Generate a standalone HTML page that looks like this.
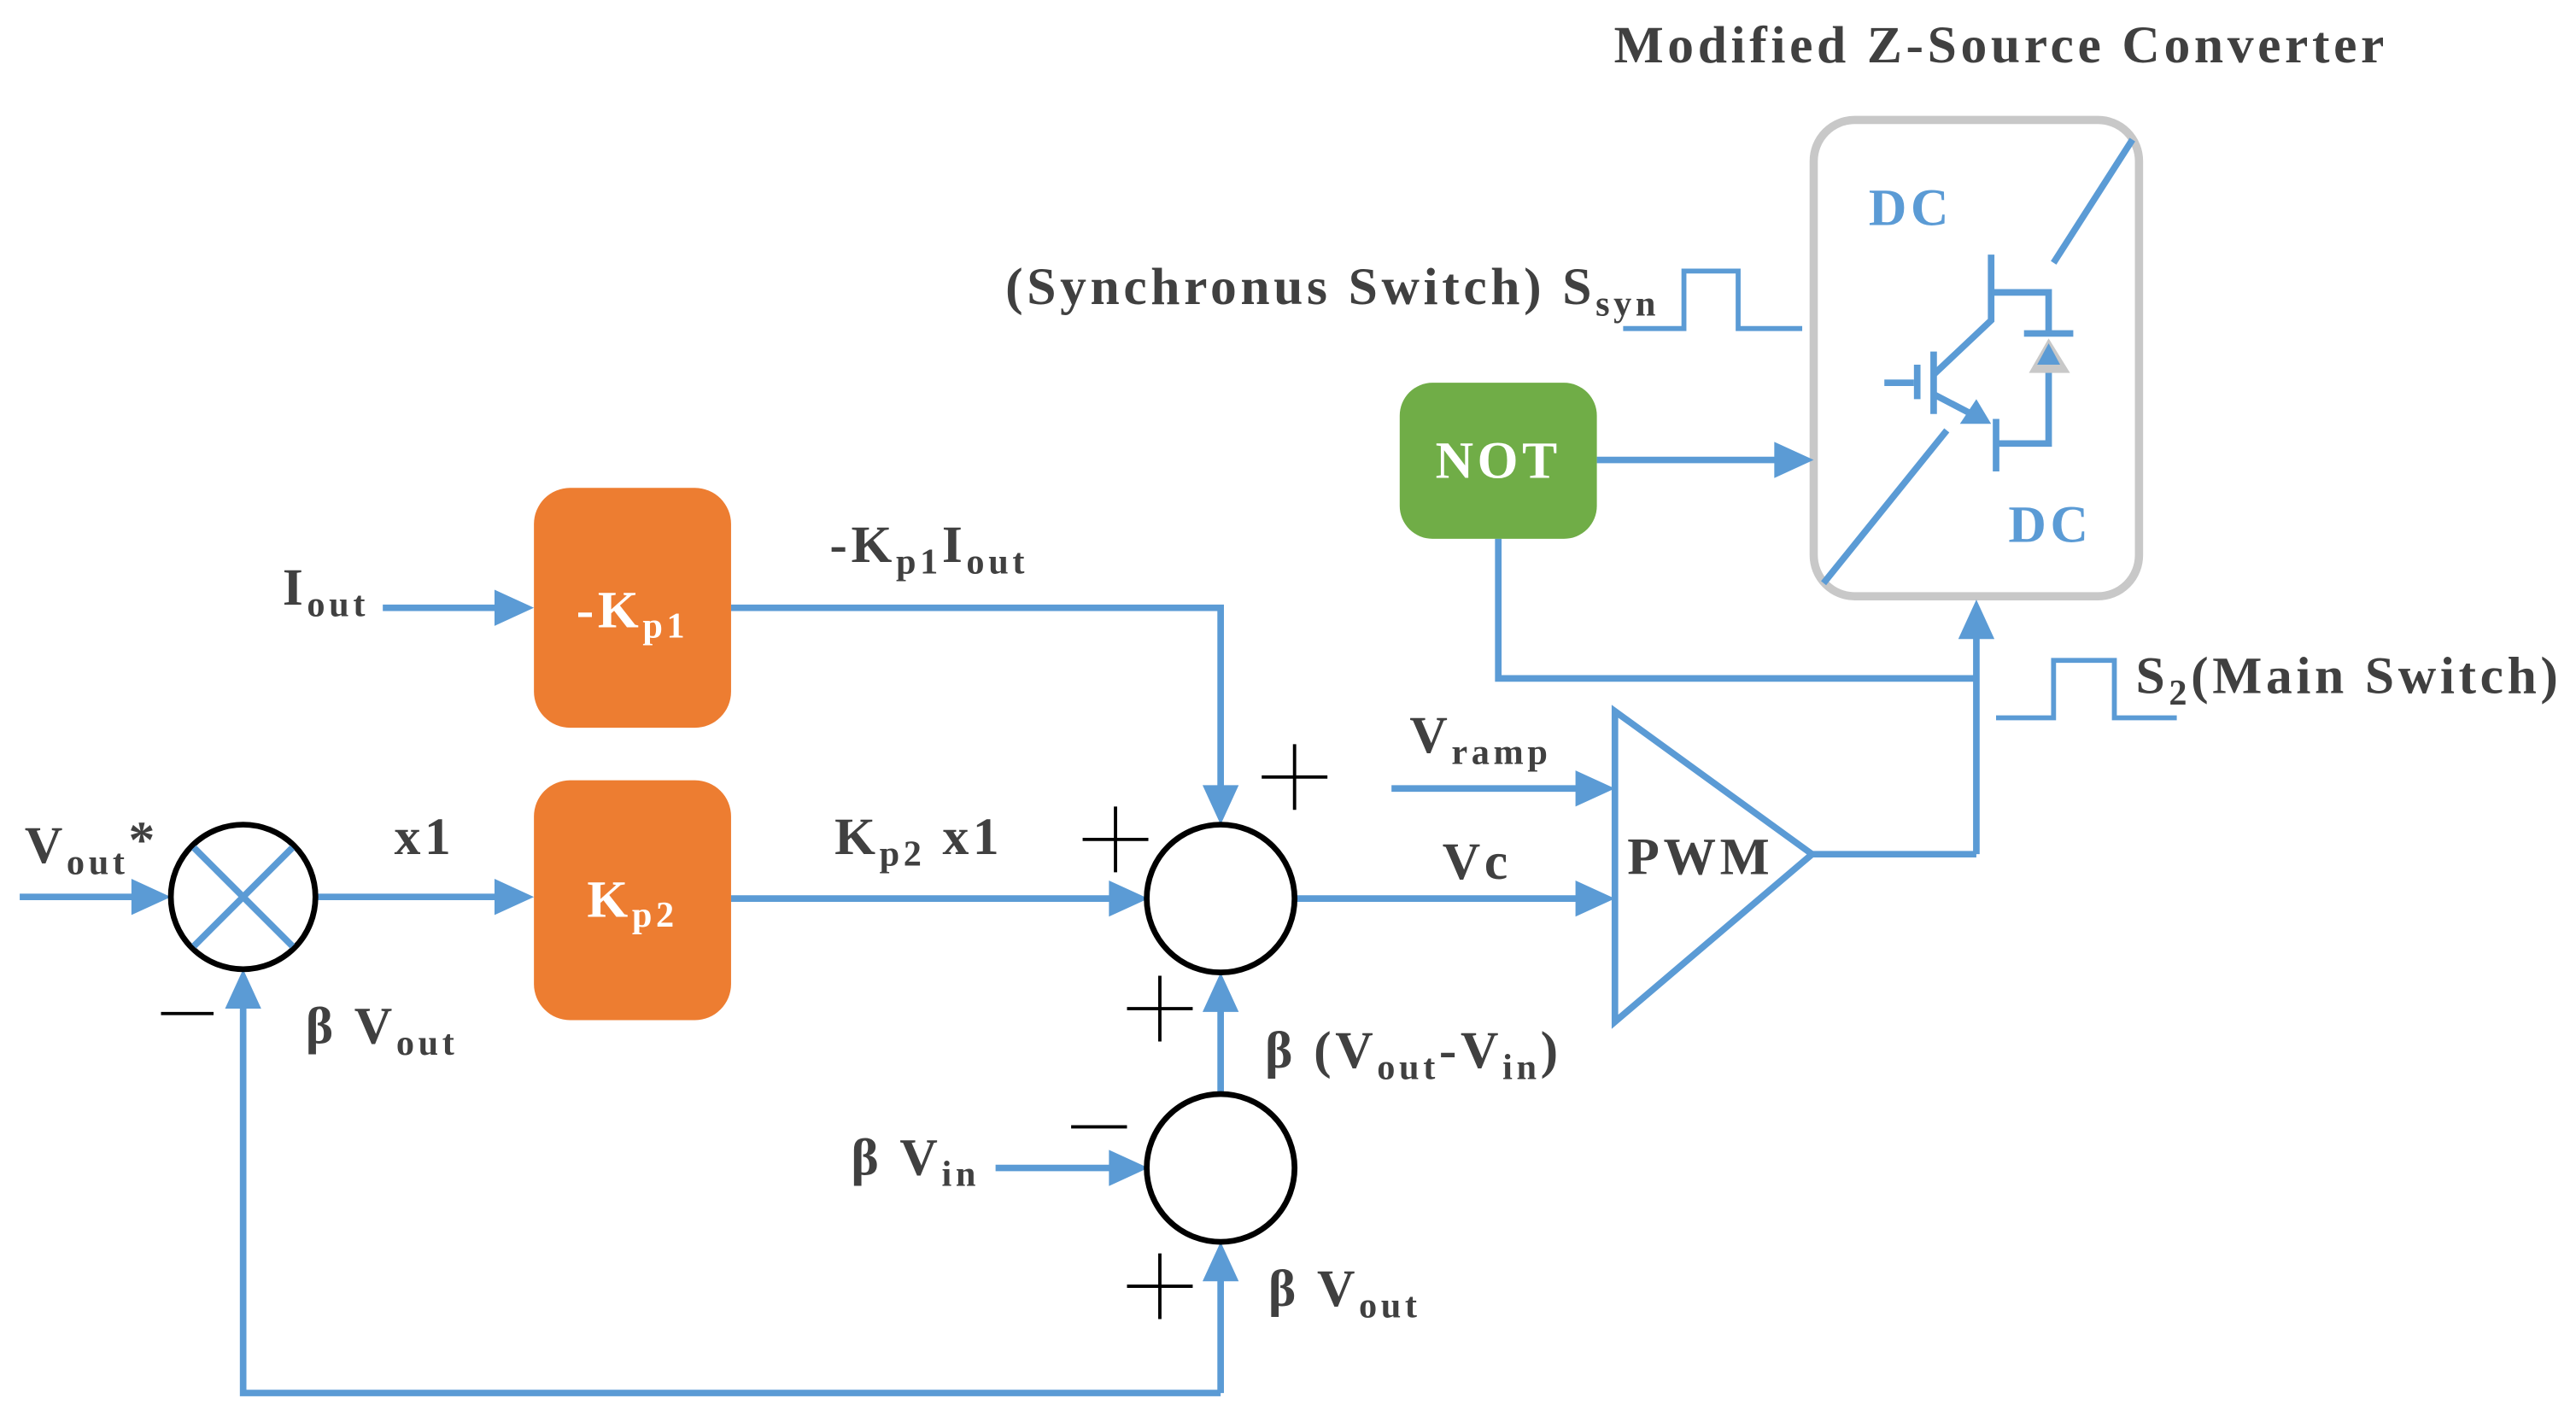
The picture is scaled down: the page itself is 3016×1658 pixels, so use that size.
<!DOCTYPE html>
<html><head><meta charset="utf-8"><style>
html,body{margin:0;padding:0;background:#fff;}
svg{display:block;}
text{font-family:"Liberation Serif",serif;font-weight:bold;fill:#404040;letter-spacing:2.4px;}
</style></head><body>
<svg width="3016" height="1658" viewBox="0 0 1568 862" preserveAspectRatio="none" xmlns="http://www.w3.org/2000/svg">
<defs>
<marker id="a" viewBox="0 0 22 20" refX="21" refY="10" markerWidth="22" markerHeight="20" markerUnits="userSpaceOnUse" orient="auto">
<path d="M0,0 L22,10 L0,20 z" fill="#5b9bd5"/>
</marker>
</defs>
<g stroke="#5b9bd5" stroke-width="4" fill="none">
<rect x="1104" y="73" width="198" height="290" rx="25" stroke="#c8c8c8" stroke-width="5"/>
<line x1="1110" y1="355" x2="1185" y2="262"/>
<line x1="1250" y1="160" x2="1298" y2="85"/>
<line x1="1147" y1="233" x2="1165" y2="233"/>
<line x1="1167" y1="222" x2="1167" y2="243"/>
<line x1="1177" y1="214" x2="1177" y2="252"/>
<polyline points="1177,228 1212,195 1212,155"/>
<polyline points="1212,178 1247,178 1247,203"/>
<line x1="1232" y1="203" x2="1262" y2="203"/>
<polyline points="1247,226 1247,270 1215,270"/>
<line x1="1215" y1="255" x2="1215" y2="287"/>
<line x1="1177" y1="240" x2="1200" y2="252"/>
<polygon points="1212,258 1193,258 1203,243" fill="#5b9bd5" stroke="none"/>
<polygon points="1235,227 1260,227 1247,206" fill="#c8c8c8" stroke="none"/>
<polygon points="1240,222 1254,222 1247,209" fill="#5b9bd5" stroke="none"/>
<polyline points="988,200 1025,200 1025,165 1058,165 1058,200 1097,200" stroke-width="3"/>
<line x1="972" y1="280" x2="1082" y2="280"/>
<polyline points="912,328 912,413 1203,413"/>
<line x1="1203" y1="520" x2="1203" y2="386"/>
<polygon points="983,433 983,622 1103,520" fill="#fff"/>
<line x1="1103" y1="520" x2="1203" y2="520"/>
<polyline points="1215,437 1250,437 1250,402 1287,402 1287,437 1325,437" stroke-width="3"/>
<line x1="847" y1="480" x2="962" y2="480"/>
<line x1="788" y1="547" x2="962" y2="547"/>
<line x1="233" y1="370" x2="304" y2="370"/>
<polyline points="445,370 743,370 743,480"/>
<line x1="445" y1="547" x2="678" y2="547"/>
<line x1="12" y1="546" x2="84" y2="546"/>
<line x1="193" y1="546" x2="304" y2="546"/>
<polyline points="743,848 148,848 148,612"/>
<line x1="743" y1="848" x2="743" y2="777"/>
<line x1="743" y1="666" x2="743" y2="613"/>
<line x1="606" y1="711" x2="678" y2="711"/>
</g>
<g fill="#5b9bd5">
<polygon points="1104,280 1080,269 1080,291"/>
<polygon points="1203,365 1192,389 1214,389"/>
<polygon points="983,480 959,469 959,491"/>
<polygon points="983,547 959,536 959,558"/>
<polygon points="325,370 301,359 301,381"/>
<polygon points="743,502 732,478 754,478"/>
<polygon points="699,547 675,536 675,558"/>
<polygon points="104,546 80,535 80,557"/>
<polygon points="325,546 301,535 301,557"/>
<polygon points="148,590 137,614 159,614"/>
<polygon points="743,756 732,780 754,780"/>
<polygon points="743,592 732,616 754,616"/>
<polygon points="699,711 675,700 675,722"/>
</g>
<g stroke="#000" stroke-width="3.5" fill="#fff">
<circle cx="148" cy="546" r="44" fill="none"/>
<circle cx="743" cy="547" r="45"/>
<circle cx="743" cy="711" r="45"/>
</g>
<line x1="118" y1="516" x2="178" y2="576" stroke="#5b9bd5" stroke-width="4"/>
<line x1="178" y1="516" x2="118" y2="576" stroke="#5b9bd5" stroke-width="4"/>
<g stroke="#000" stroke-width="2">
<path d="M768,473h40M788,453v40"/>
<path d="M659,511h40M679,491v40"/>
<path d="M686,614h40M706,594v40"/>
<path d="M652,686h34"/>
<path d="M686,783h40M706,763v40"/>
<path d="M98,617h32"/>
</g>
<rect x="325" y="297" width="120" height="146" rx="22" fill="#ed7d31"/>
<rect x="325" y="475" width="120" height="146" rx="22" fill="#ed7d31"/>
<rect x="852" y="233" width="120" height="95" rx="20" fill="#70ad47"/>
<text x="912" y="291" font-size="32" text-anchor="middle" style="fill:#fff">NOT</text>
<text x="385" y="382" font-size="32" text-anchor="middle" style="fill:#fff">-K<tspan font-size="22" dy="6">p1</tspan></text>
<text x="385" y="558" font-size="32" text-anchor="middle" style="fill:#fff">K<tspan font-size="22" dy="6">p2</tspan></text>
<text x="1218" y="38" font-size="32" text-anchor="middle">Modified Z-Source Converter</text>
<text x="1163" y="137" font-size="32" text-anchor="middle" style="fill:#5b9bd5">DC</text>
<text x="1248" y="330" font-size="32" text-anchor="middle" style="fill:#5b9bd5">DC</text>
<text x="612" y="185" font-size="32">(Synchronus Switch) S<tspan font-size="22" dy="7">syn</tspan></text>
<text x="1035" y="532" font-size="32" text-anchor="middle">PWM</text>
<text x="1300" y="422" font-size="32">S<tspan font-size="22" dy="7">2</tspan><tspan dy="-7">(Main Switch)</tspan></text>
<text x="858" y="458" font-size="32">V<tspan font-size="22" dy="7">ramp</tspan></text>
<text x="878" y="535" font-size="32">Vc</text>
<text x="172" y="368" font-size="32">I<tspan font-size="22" dy="7">out</tspan></text>
<text x="505" y="342" font-size="32">-K<tspan font-size="22" dy="7">p1</tspan><tspan dy="-7">I</tspan><tspan font-size="22" dy="7">out</tspan></text>
<text x="508" y="520" font-size="32">K<tspan font-size="22" dy="7">p2</tspan><tspan dy="-7"> x1</tspan></text>
<text x="15" y="525" font-size="32">V<tspan font-size="22" dy="7">out</tspan><tspan dy="-10">*</tspan></text>
<text x="240" y="520" font-size="32">x1</text>
<text x="186" y="635" font-size="32">β V<tspan font-size="22" dy="7">out</tspan></text>
<text x="770" y="650" font-size="32">β (V<tspan font-size="22" dy="7">out</tspan><tspan dy="-7">-V</tspan><tspan font-size="22" dy="7">in</tspan><tspan dy="-7">)</tspan></text>
<text x="518" y="715" font-size="32">β V<tspan font-size="22" dy="7">in</tspan></text>
<text x="772" y="795" font-size="32">β V<tspan font-size="22" dy="7">out</tspan></text>
</svg>
</body></html>
